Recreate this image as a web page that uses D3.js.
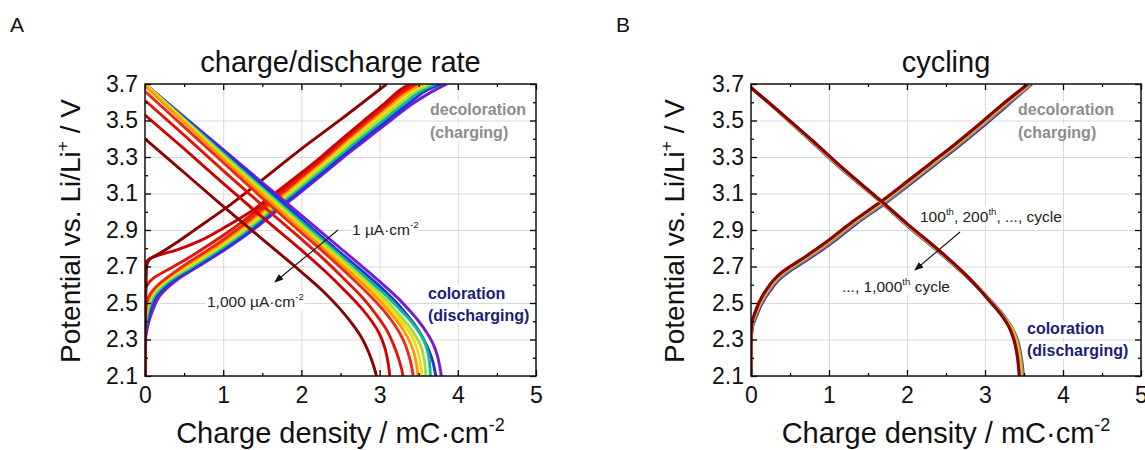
<!DOCTYPE html>
<html>
<head>
<meta charset="utf-8">
<script src="https://cdn.jsdelivr.net/npm/d3@7"></script>
<style>
  body { margin: 0; background: #fff; }
  text { font-family: "Liberation Sans", Arial, sans-serif; }
</style>
</head>
<body>
<div id="chart"></div>
<script>
// ---- data: [charge density mC/cm2, potential V] ----
// panel A, one curve per rate, from 1 uA/cm2 (purple) to 1,000 uA/cm2 (dark red)
const rateColors = ["#7a1ad0", "#1535e6", "#10b890", "#9ee040", "#f2dc10", "#ff9a00", "#f02a10", "#e01808", "#cc0000", "#8b0000"];

const rateCharge = [
  [[0,2.1],[0,2.26],[0.02,2.34],[0.05,2.4],[0.09,2.45],[0.21,2.55],[0.42,2.63],[0.68,2.7],[1.05,2.8],[1.38,2.9],[1.67,3.0],[1.97,3.1],[2.26,3.2],[2.54,3.3],[2.84,3.4],[3.14,3.5],[3.45,3.6],[3.7,3.665],[3.86,3.7]],
  [[0,2.1],[0,2.29],[0.02,2.37],[0.06,2.45],[0.17,2.55],[0.38,2.63],[0.645,2.7],[1.015,2.8],[1.345,2.9],[1.635,3.0],[1.93,3.1],[2.22,3.2],[2.5,3.3],[2.79,3.4],[3.09,3.5],[3.39,3.6],[3.62,3.67],[3.79,3.7]],
  [[0,2.1],[0,2.32],[0.015,2.39],[0.04,2.45],[0.14,2.55],[0.345,2.63],[0.61,2.7],[0.98,2.8],[1.31,2.9],[1.6,3.0],[1.89,3.1],[2.18,3.2],[2.46,3.3],[2.745,3.4],[3.04,3.5],[3.335,3.6],[3.56,3.67],[3.72,3.7]],
  [[0,2.1],[0,2.35],[0.01,2.41],[0.025,2.45],[0.115,2.55],[0.31,2.63],[0.575,2.7],[0.945,2.8],[1.275,2.9],[1.565,3.0],[1.855,3.1],[2.14,3.2],[2.42,3.3],[2.7,3.4],[2.99,3.5],[3.28,3.6],[3.5,3.67],[3.66,3.7]],
  [[0,2.1],[0,2.38],[0.015,2.45],[0.09,2.55],[0.28,2.63],[0.54,2.7],[0.91,2.8],[1.24,2.9],[1.53,3.0],[1.82,3.1],[2.1,3.2],[2.38,3.3],[2.655,3.4],[2.94,3.5],[3.23,3.6],[3.45,3.67],[3.6,3.7]],
  [[0,2.1],[0,2.41],[0.008,2.45],[0.07,2.55],[0.25,2.63],[0.505,2.7],[0.875,2.8],[1.205,2.9],[1.495,3.0],[1.785,3.1],[2.06,3.2],[2.34,3.3],[2.61,3.4],[2.89,3.5],[3.18,3.6],[3.4,3.67],[3.55,3.7]],
  [[0,2.1],[0,2.45],[0.02,2.5],[0.07,2.55],[0.17,2.6],[0.32,2.65],[0.48,2.7],[0.84,2.8],[1.17,2.9],[1.46,3.0],[1.75,3.1],[2.03,3.2],[2.31,3.3],[2.58,3.4],[2.86,3.5],[3.14,3.6],[3.35,3.67],[3.48,3.7]],
  [[0,2.1],[0,2.56],[0.03,2.6],[0.12,2.64],[0.28,2.68],[0.45,2.72],[0.75,2.8],[1.1,2.9],[1.41,3.0],[1.71,3.1],[2.0,3.2],[2.28,3.3],[2.55,3.4],[2.83,3.5],[3.11,3.6],[3.31,3.67],[3.43,3.7]],
  [[0,2.1],[0,2.71],[0.05,2.74],[0.2,2.765],[0.4,2.79],[0.7,2.84],[1.0,2.91],[1.35,3.0],[1.66,3.1],[1.96,3.2],[2.25,3.3],[2.52,3.4],[2.8,3.5],[3.08,3.6],[3.27,3.67],[3.38,3.7]],
  [[0,2.1],[0.01,2.5],[0.02,2.7],[0.06,2.74],[0.2,2.775],[0.4,2.83],[0.6,2.89],[1.0,3.01],[1.5,3.175],[2.0,3.345],[2.5,3.505],[3.09,3.7]]
];

const rateDischarge = [
  [[0,3.7],[0.5,3.52],[1.0,3.34],[1.5,3.16],[2.0,2.98],[2.5,2.8],[2.9,2.655],[3.1,2.58],[3.25,2.52],[3.38,2.46],[3.5,2.4],[3.6,2.34],[3.68,2.28],[3.74,2.21],[3.77,2.15],[3.79,2.1]],
  [[0,3.7],[0.5,3.515],[1.0,3.33],[1.5,3.145],[2.0,2.96],[2.5,2.775],[2.9,2.63],[3.08,2.56],[3.22,2.5],[3.34,2.44],[3.45,2.38],[3.54,2.32],[3.62,2.25],[3.68,2.18],[3.71,2.12],[3.72,2.1]],
  [[0,3.7],[0.5,3.51],[1.0,3.32],[1.5,3.13],[2.0,2.945],[2.5,2.76],[2.9,2.61],[3.1,2.535],[3.28,2.455],[3.42,2.39],[3.52,2.33],[3.59,2.27],[3.63,2.2],[3.65,2.1]],
  [[0,3.7],[0.5,3.505],[1.0,3.31],[1.5,3.12],[2.0,2.93],[2.5,2.745],[2.85,2.61],[3.05,2.53],[3.22,2.45],[3.36,2.38],[3.46,2.32],[3.53,2.26],[3.57,2.19],[3.59,2.1]],
  [[0,3.7],[0.5,3.5],[1.0,3.3],[1.5,3.105],[2.0,2.915],[2.5,2.73],[2.8,2.615],[3.0,2.535],[3.17,2.455],[3.31,2.38],[3.41,2.32],[3.48,2.25],[3.52,2.18],[3.54,2.1]],
  [[0,3.69],[0.5,3.49],[1.0,3.29],[1.5,3.095],[2.0,2.905],[2.5,2.715],[2.75,2.62],[2.95,2.535],[3.12,2.455],[3.26,2.38],[3.36,2.31],[3.43,2.24],[3.47,2.17],[3.49,2.1]],
  [[0,3.66],[0.5,3.465],[1.0,3.27],[1.5,3.075],[2.0,2.885],[2.4,2.735],[2.7,2.615],[2.9,2.53],[3.07,2.45],[3.2,2.375],[3.3,2.3],[3.37,2.22],[3.41,2.15],[3.43,2.1]],
  [[0,3.61],[0.5,3.42],[1.0,3.225],[1.5,3.035],[2.0,2.85],[2.3,2.735],[2.55,2.63],[2.78,2.53],[2.95,2.44],[3.08,2.36],[3.17,2.28],[3.24,2.2],[3.28,2.14],[3.3,2.1]],
  [[0,3.53],[0.5,3.345],[1.0,3.155],[1.5,2.97],[2.0,2.79],[2.3,2.675],[2.55,2.57],[2.75,2.48],[2.9,2.4],[3.0,2.33],[3.07,2.25],[3.11,2.17],[3.13,2.1]],
  [[0,3.4],[0.5,3.215],[1.0,3.03],[1.5,2.85],[2.0,2.67],[2.3,2.555],[2.5,2.465],[2.65,2.385],[2.77,2.31],[2.86,2.23],[2.92,2.16],[2.96,2.1]]
];

// panel B, 100th ... 1,000th cycle (drawn purple first, dark red last on top)
const cycleColors = ["#5b2a8e", "#8a8a8a", "#d8c020", "#8b0000"];

const cycleCharge = [
  [[0,2.1],[0,2.28],[0.02,2.37],[0.07,2.43],[0.13,2.49],[0.24,2.565],[0.34,2.62],[0.45,2.66],[0.55,2.69],[0.75,2.745],[1.05,2.835],[1.35,2.935],[1.73,3.05],[2.05,3.155],[2.35,3.255],[2.65,3.355],[2.95,3.46],[3.25,3.57],[3.6,3.7]],
  [[0,2.1],[0,2.285],[0.015,2.375],[0.06,2.435],[0.12,2.495],[0.23,2.57],[0.33,2.625],[0.44,2.665],[0.54,2.695],[0.74,2.75],[1.04,2.84],[1.34,2.94],[1.72,3.053],[2.04,3.16],[2.34,3.26],[2.64,3.36],[2.94,3.465],[3.24,3.575],[3.59,3.7]],
  [[0,2.1],[0,2.29],[0.012,2.38],[0.058,2.44],[0.112,2.497],[0.215,2.572],[0.315,2.628],[0.415,2.668],[0.515,2.698],[0.715,2.753],[1.015,2.843],[1.315,2.942],[1.695,3.057],[2.015,3.162],[2.315,3.262],[2.615,3.362],[2.915,3.467],[3.215,3.577],[3.57,3.7]],
  [[0,2.1],[0,2.3],[0.01,2.39],[0.05,2.445],[0.1,2.5],[0.2,2.575],[0.3,2.63],[0.4,2.67],[0.5,2.7],[0.7,2.755],[1.0,2.845],[1.3,2.945],[1.68,3.06],[2.0,3.165],[2.3,3.265],[2.6,3.365],[2.9,3.47],[3.2,3.58],[3.55,3.7]]
];

const cycleDischarge = [
  [[0,3.68],[0.4,3.53],[0.8,3.375],[1.2,3.22],[1.7,3.04],[2.0,2.925],[2.42,2.775],[2.8,2.63],[3.08,2.51],[3.24,2.43],[3.35,2.36],[3.42,2.29],[3.46,2.21],[3.48,2.15],[3.49,2.1]],
  [[0,3.68],[0.4,3.532],[0.8,3.378],[1.2,3.223],[1.69,3.045],[2.0,2.928],[2.42,2.778],[2.8,2.632],[3.075,2.51],[3.23,2.432],[3.34,2.365],[3.41,2.293],[3.45,2.213],[3.47,2.15],[3.48,2.1]],
  [[0,3.68],[0.4,3.533],[0.8,3.38],[1.2,3.226],[1.69,3.048],[2.0,2.93],[2.42,2.78],[2.8,2.633],[3.07,2.51],[3.22,2.435],[3.33,2.37],[3.4,2.295],[3.44,2.215],[3.46,2.15],[3.465,2.1]],
  [[0,3.68],[0.4,3.535],[0.8,3.385],[1.2,3.23],[1.68,3.055],[2.0,2.935],[2.42,2.785],[2.8,2.635],[3.06,2.51],[3.2,2.44],[3.3,2.375],[3.37,2.3],[3.41,2.22],[3.43,2.15],[3.44,2.1]]
];

// axis ticks
const xMajor = [0, 1, 2, 3, 4, 5];
const xMinor = [0.5, 1.5, 2.5, 3.5, 4.5];
const yMajor = [2.1, 2.3, 2.5, 2.7, 2.9, 3.1, 3.3, 3.5, 3.7];
const yMinor = [2.2, 2.4, 2.6, 2.8, 3.0, 3.2, 3.4, 3.6];
const xGrid = [1, 2, 3, 4];
const yGrid = [2.3, 2.5, 2.7, 2.9, 3.1, 3.3, 3.5];

// ---- drawing ----
const W = 1145, H = 450;
const svg = d3.select("#chart")
  .append("svg")
    .attr("width", W)
    .attr("height", H);

const defs = svg.append("defs");
defs.append("marker")
    .attr("id", "arrow")
    .attr("viewBox", "0 0 10 10")
    .attr("refX", 9).attr("refY", 5)
    .attr("markerWidth", 9).attr("markerHeight", 9)
    .attr("markerUnits", "userSpaceOnUse")
    .attr("orient", "auto")
  .append("path")
    .attr("d", "M0,1 L10,5 L0,9 Z")
    .attr("fill", "#111");

// writes text made of [string, isSuperscript] parts
function richText(parent, x, y, parts, fs) {
  const t = parent.append("text")
      .attr("x", x).attr("y", y)
      .attr("font-size", fs);
  let up = false;
  parts.forEach(function(p) {
    const ts = t.append("tspan").text(p[0]);
    if (p[1]) {
      ts.attr("font-size", fs * 0.62);
      if (!up) ts.attr("dy", -fs * 0.42);
      up = true;
    } else if (up) {
      ts.attr("dy", fs * 0.42);
      up = false;
    }
  });
  return t;
}

// label with a white box behind it
function boxedText(parent, x, y, parts, fs, color, weight) {
  const g = parent.append("g");
  const t = richText(g, x, y, parts, fs)
      .attr("fill", color)
      .attr("font-weight", weight || "normal");
  const b = t.node().getBBox();
  g.insert("rect", "text")
      .attr("x", b.x - 1).attr("y", b.y)
      .attr("width", b.width + 2).attr("height", b.height)
      .attr("fill", "#fff");
  return t;
}

const line = d3.line()
    .x(function(d) { return d[0]; })
    .y(function(d) { return d[1]; })
    .curve(d3.curveMonotoneY);

function drawPanel(p) {
  const w = p.right - p.left, h = p.bottom - p.top;
  const x = d3.scaleLinear().domain([0, 5]).range([0, w]);
  const y = d3.scaleLinear().domain([2.1, 3.7]).range([h, 0]);

  const g = svg.append("g").attr("transform", `translate(${p.left},${p.top})`);

  // grid
  g.append("g")
      .attr("transform", `translate(0,${h})`)
      .call(d3.axisBottom(x).tickValues(xGrid).tickSize(-h).tickFormat(""))
      .call(s => s.select(".domain").remove())
      .selectAll("line").attr("stroke", "#d9d9d9").attr("stroke-width", 1);
  g.append("g")
      .call(d3.axisLeft(y).tickValues(yGrid).tickSize(-w).tickFormat(""))
      .call(s => s.select(".domain").remove())
      .selectAll("line").attr("stroke", "#d9d9d9").attr("stroke-width", 1);

  // curves
  const clipId = "clip" + p.id;
  defs.append("clipPath").attr("id", clipId)
    .append("rect").attr("width", w).attr("height", h);
  const plot = g.append("g").attr("clip-path", `url(#${clipId})`);

  const series = [];
  p.charge.forEach(function(c, i) { series.push({ pts: c, color: p.colors[i] }); });
  p.discharge.forEach(function(c, i) { series.push({ pts: c, color: p.colors[i] }); });

  plot.selectAll("path")
    .data(series)
    .join("path")
      .attr("d", function(s) {
        const pts = s.pts.slice().sort(function(a, b) { return a[1] - b[1]; })
          .map(function(d) { return [x(d[0]), y(d[1])]; });
        return line(pts);
      })
      .attr("fill", "none")
      .attr("stroke", function(s) { return s.color; })
      .attr("stroke-width", p.lw)
      .attr("stroke-linejoin", "round");

  // axes with inward ticks
  const fmt = d3.format(".1f");
  const bottom = g.append("g").attr("transform", `translate(0,${h})`)
      .call(d3.axisBottom(x).tickValues(xMajor).tickSize(-6).tickPadding(11).tickFormat(d3.format("d")));
  g.append("g").attr("transform", `translate(0,${h})`)
      .call(d3.axisBottom(x).tickValues(xMinor).tickSize(-3).tickFormat(""));
  g.append("g")
      .call(d3.axisTop(x).tickValues(xMajor).tickSize(-6).tickFormat(""));
  g.append("g")
      .call(d3.axisTop(x).tickValues(xMinor).tickSize(-3).tickFormat(""));
  const left = g.append("g")
      .call(d3.axisLeft(y).tickValues(yMajor).tickSize(-6).tickPadding(7).tickFormat(fmt));
  g.append("g")
      .call(d3.axisLeft(y).tickValues(yMinor).tickSize(-3).tickFormat(""));
  g.append("g").attr("transform", `translate(${w},0)`)
      .call(d3.axisRight(y).tickValues(yMajor).tickSize(-6).tickFormat(""));
  g.append("g").attr("transform", `translate(${w},0)`)
      .call(d3.axisRight(y).tickValues(yMinor).tickSize(-3).tickFormat(""));

  g.selectAll(".domain").remove();
  g.selectAll(".tick line").filter(function() { return this.getAttribute("stroke") === "currentColor"; })
      .attr("stroke", "#000").attr("stroke-width", 1.3);
  bottom.selectAll("text").attr("font-size", 23).attr("font-family", "Liberation Sans, Arial, sans-serif").attr("fill", "#111");
  left.selectAll("text").attr("font-size", 23).attr("font-family", "Liberation Sans, Arial, sans-serif").attr("fill", "#111");

  // frame
  g.append("rect")
      .attr("width", w).attr("height", h)
      .attr("fill", "none").attr("stroke", "#111").attr("stroke-width", 1.5);

  // titles
  svg.append("text")
      .attr("x", p.left + w / 2).attr("y", 72)
      .attr("text-anchor", "middle").attr("font-size", 29).attr("fill", "#111")
      .text(p.title);
  svg.append("text")
      .attr("x", p.letterX).attr("y", 32)
      .attr("font-size", 21).attr("fill", "#111")
      .text(p.letter);
  richText(svg, p.left + w / 2, 443, [["Charge density / mC·cm"], ["-2", true]], 29)
      .attr("text-anchor", "middle").attr("fill", "#111");
  richText(svg, 0, 0, [["Potential vs. Li/Li"], ["+", true], [" / V"]], 28)
      .attr("text-anchor", "middle").attr("fill", "#111")
      .attr("transform", `translate(${p.ytitleX},231) rotate(-90)`);

  // state labels
  boxedText(svg, p.decoX, 115, [["decoloration"]], 16, "#8c8c8c", "bold");
  boxedText(svg, p.decoX, 138, [["(charging)"]], 16, "#8c8c8c", "bold");
  boxedText(svg, p.coloX, p.coloY, [["coloration"]], 16, "#1c1c78", "bold");
  boxedText(svg, p.coloX, p.coloY + 22, [["(discharging)"]], 16, "#1c1c78", "bold");

  // arrow note
  boxedText(svg, p.note1[0], p.note1[1], p.note1[2], 15.5, "#222");
  boxedText(svg, p.note2[0], p.note2[1], p.note2[2], 15.5, "#222");
  svg.append("line")
      .attr("x1", p.arrow[0]).attr("y1", p.arrow[1])
      .attr("x2", p.arrow[2]).attr("y2", p.arrow[3])
      .attr("stroke", "#111").attr("stroke-width", 1.1)
      .attr("marker-end", "url(#arrow)");
}

drawPanel({
  id: "A", left: 145, right: 536, top: 84, bottom: 376,
  title: "charge/discharge rate", letter: "A", letterX: 10, ytitleX: 80,
  charge: rateCharge, discharge: rateDischarge, colors: rateColors, lw: 2.9,
  decoX: 430, coloX: 428, coloY: 299,
  note1: [352, 235, [["1 µA·cm"], ["-2", true]]],
  note2: [207, 307, [["1,000 µA·cm"], ["-2", true]]],
  arrow: [338, 230, 275, 282]
});

drawPanel({
  id: "B", left: 751, right: 1141, top: 84, bottom: 376,
  title: "cycling", letter: "B", letterX: 616, ytitleX: 684,
  charge: cycleCharge, discharge: cycleDischarge, colors: cycleColors, lw: 3.2,
  decoX: 1018, coloX: 1027, coloY: 334,
  note1: [920, 222, [["100"], ["th", true], [", 200"], ["th", true], [", ..., cycle"]]],
  note2: [842, 292, [["..., 1,000"], ["th", true], [" cycle"]]],
  arrow: [960, 232, 915, 270]
});
</script>
</body>
</html>
